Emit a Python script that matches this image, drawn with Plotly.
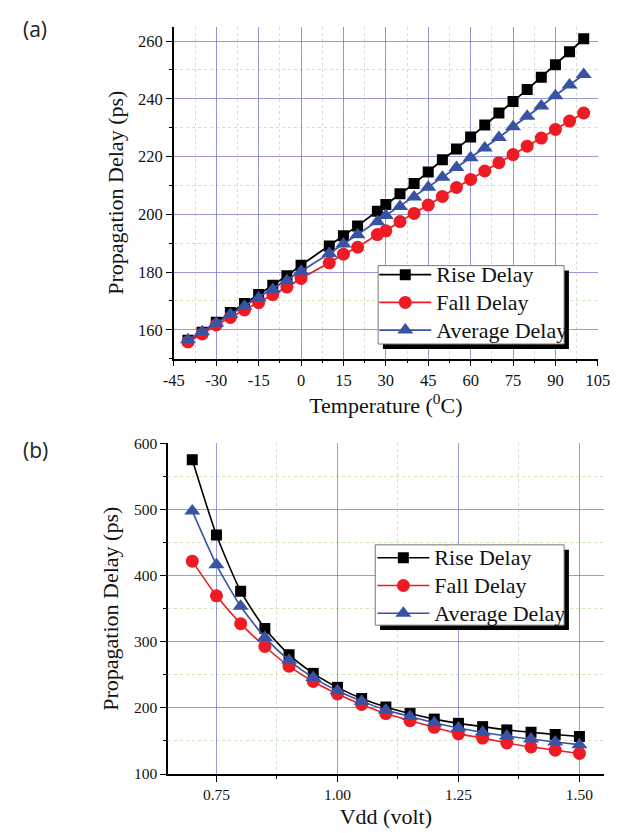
import plotly.graph_objects as go

# ---------------- data (a): temperature sweep ----------------
temp_c = [-40, -35, -30, -25, -20, -15, -10, -5, 0, 10, 15, 20, 27, 30, 35, 40,
          45, 50, 55, 60, 65, 70, 75, 80, 85, 90, 95, 100]
rise_a = [156.4, 159.2, 162.6, 166.0, 169.1, 172.2, 175.4, 178.7, 182.4, 189.0, 192.6,
          196.0, 201.1, 203.4, 207.1, 210.7, 214.7, 218.9, 222.6, 226.8, 230.9, 235.1,
          239.1, 243.2, 247.5, 251.8, 256.3, 260.8]
fall_a = [155.8, 158.6, 161.7, 164.3, 166.9, 169.4, 172.2, 174.8, 177.8, 183.2, 186.2,
          188.6, 193.0, 194.3, 197.5, 200.3, 203.2, 206.2, 209.3, 212.1, 215.0, 217.9,
          220.7, 223.6, 226.4, 229.4, 232.3, 235.1]
avg_a = [156.6, 159.3, 162.3, 165.3, 168.2, 171.0, 174.0, 177.0, 180.3, 186.4, 189.7,
         192.9, 197.4, 199.6, 202.7, 206.0, 209.4, 212.8, 216.2, 219.6, 223.0, 226.6,
         230.3, 234.0, 237.5, 241.1, 244.8, 248.4]
temp_ticks = [-45, -30, -15, 0, 15, 30, 45, 60, 75, 90, 105]
temp_tick_labels = ["-45", "-30", "-15", "0", "15", "30", "45", "60", "75", "90", "105"]

# ---------------- data (b): supply sweep ----------------
vdd = [0.70, 0.75, 0.80, 0.85, 0.90, 0.95, 1.00, 1.05, 1.10, 1.15, 1.20, 1.25, 1.30,
       1.35, 1.40, 1.45, 1.50]
rise_b = [575.3, 461.5, 376.5, 320.1, 280.5, 252.3, 231.1, 214.2, 201.4, 191.5, 183.1,
          176.7, 171.7, 166.8, 163.3, 159.8, 156.9]
fall_b = [422.0, 369.5, 327.5, 292.9, 263.2, 240.0, 221.2, 205.3, 191.5, 180.6, 170.7,
          160.8, 154.4, 147.0, 141.1, 136.1, 131.2]
avg_b = [498.0, 416.5, 353.7, 306.7, 272.1, 245.9, 226.1, 210.3, 196.9, 187.0, 177.6,
         169.7, 163.3, 157.4, 152.9, 148.5, 144.5]

names = ["Rise Delay", "Fall Delay", "Average Delay"]
colors = ["#000000", "#ed1c24", "#3953a4"]
symbols = ["square", "circle", "triangle-up"]
msizes = [11, 13, 14]

SERIF = "Liberation Serif, Times New Roman, serif"
W, H = 632, 833


def px_x(p):
    return p / W


def px_y(p):
    return 1 - p / H


def legend_label(n):
    return '<span style="font-size:22px">' + n + '</span>'


fig = go.Figure()

for name, ys, c, s, ms in zip(names, [rise_a, fall_a, avg_a], colors, symbols, msizes):
    fig.add_trace(go.Scatter(
        x=temp_c, y=ys, name=legend_label(name), mode="lines+markers",
        line=dict(color=c, width=1.8),
        marker=dict(symbol=s, size=ms, color=c),
        xaxis="x", yaxis="y", legend="legend"))

for name, ys, c, s, ms in zip(names, [rise_b, fall_b, avg_b], colors, symbols, msizes):
    fig.add_trace(go.Scatter(
        x=vdd, y=ys, name=legend_label(name), mode="lines+markers",
        line=dict(color=c, width=1.6, shape="spline", smoothing=0.6),
        marker=dict(symbol=s, size=ms, color=c),
        xaxis="x2", yaxis="y2", legend="legend2"))

major_grid = "rgba(120,120,205,0.75)"
minor_grid = "rgba(170,210,150,0.6)"


def axis_common(fs):
    return dict(
        showline=True, linecolor="black", linewidth=1.5, mirror=False,
        ticks="outside", ticklen=6, tickwidth=1.3, tickcolor="black",
        showgrid=True, gridcolor=major_grid, gridwidth=1,
        zeroline=False,
        tickfont=dict(family=SERIF, size=fs, color="#111"),
        title_font=dict(family=SERIF, size=22, color="#111"),
    )


def minor(dt, t0):
    return dict(dtick=dt, tick0=t0, ticks="outside", ticklen=3, tickcolor="black",
                showgrid=True, gridcolor=minor_grid, griddash="dot")


legend_common = dict(xanchor="left", yanchor="top", bgcolor="rgba(0,0,0,0)",
                     borderwidth=0, font=dict(family=SERIF, size=19, color="#111"),
                     itemwidth=52, tracegroupgap=0)

fig.update_layout(
    width=W, height=H,
    margin=dict(l=0, r=0, t=0, b=0),
    paper_bgcolor="white", plot_bgcolor="white",
    showlegend=True,
    xaxis=dict(**axis_common(16.5), domain=[px_x(169), px_x(609)], range=[-45, 105],
               tickmode="array", tickvals=temp_ticks, ticktext=temp_tick_labels,
               anchor="y", minor=minor(7.5, -45),
               title=dict(text="Temperature (<sup>0</sup>C)", standoff=8)),
    yaxis=dict(**axis_common(16.5), domain=[px_y(357), px_y(18)], range=[150, 265],
               tick0=160, dtick=20, anchor="x", minor=minor(10, 150),
               title=dict(text="Propagation Delay (ps)", standoff=8)),
    xaxis2=dict(**axis_common(15.5), domain=[px_x(163), px_x(615)], range=[0.65, 1.55],
                tick0=0.75, dtick=0.25, tickformat=".2f", anchor="y2",
                minor=minor(0.125, 0.75),
                title=dict(text="Vdd (volt)", standoff=6)),
    yaxis2=dict(**axis_common(15.5), domain=[px_y(781), px_y(443.5)], range=[100, 600],
                tick0=100, dtick=100, anchor="x2", minor=minor(50, 100),
                title=dict(text="Propagation Delay (ps)", standoff=9)),
    legend=dict(x=px_x(377), y=px_y(252), **legend_common),
    legend2=dict(x=px_x(375), y=px_y(541), **legend_common),
)

# legend frames with drop shadows
for (x0, y0, x1, y1) in [(381, 262, 574, 342), (378, 547, 574, 629)]:
    fig.add_shape(type="rect", xref="paper", yref="paper",
                  x0=px_x(x0 + 5), x1=px_x(x1 + 5), y0=px_y(y1 + 5), y1=px_y(y0 + 5),
                  fillcolor="black", line_width=0, layer="above")
    fig.add_shape(type="rect", xref="paper", yref="paper",
                  x0=px_x(x0), x1=px_x(x1), y0=px_y(y1), y1=px_y(y0),
                  fillcolor="white", line=dict(color="#777", width=1), layer="above")

# panel labels
fig.add_annotation(text="(a)", xref="paper", yref="paper", x=px_x(25), y=px_y(20),
                   xanchor="center", yanchor="middle", showarrow=False,
                   font=dict(family="Open Sans, sans-serif", size=21, color="#222"))
fig.add_annotation(text="(b)", xref="paper", yref="paper", x=px_x(25), y=px_y(450),
                   xanchor="center", yanchor="middle", showarrow=False,
                   font=dict(family="Open Sans, sans-serif", size=21, color="#222"))

fig.write_html("out.html")
